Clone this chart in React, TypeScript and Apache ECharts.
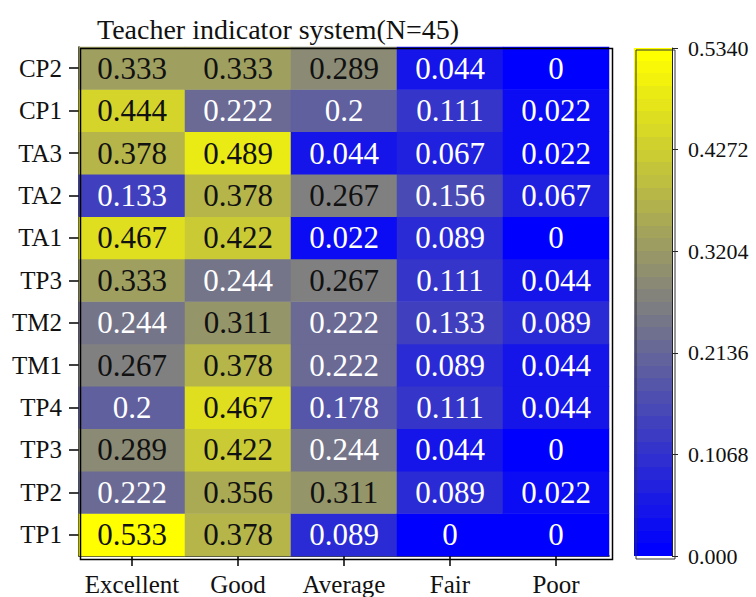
import React, { useEffect, useRef } from "react";
import * as echarts from "echarts";

// Rating categories (columns) and indicators (rows, bottom to top)
const ratings = ["Excellent", "Good", "Average", "Fair", "Poor"];
const indicators = ["TP1", "TP2", "TP3", "TP4", "TM1", "TM2", "TP3", "TA1", "TA2", "TA3", "CP1", "CP2"];

// Share of responses per indicator, one array per rating column (bottom row first)
const excellent = [0.533, 0.222, 0.289, 0.2, 0.267, 0.244, 0.333, 0.467, 0.133, 0.378, 0.444, 0.333];
const good = [0.378, 0.356, 0.422, 0.467, 0.378, 0.311, 0.244, 0.422, 0.378, 0.489, 0.222, 0.333];
const average = [0.089, 0.311, 0.244, 0.178, 0.222, 0.222, 0.267, 0.022, 0.267, 0.044, 0.2, 0.289];
const fair = [0, 0.089, 0.044, 0.111, 0.089, 0.133, 0.111, 0.089, 0.156, 0.067, 0.111, 0.044];
const poor = [0, 0.022, 0, 0.044, 0.044, 0.089, 0.044, 0, 0.067, 0.022, 0.022, 0];

const columns = [excellent, good, average, fair, poor];

// Colour scale range and its tick step
const scaleMin = 0;
const scaleMax = 0.534;
const scaleStep = 0.1068;
const colorbarLevels = 40;

const FONT = "'Liberation Serif', 'Times New Roman', serif";

// Layout of the heatmap and colour bar
const plot = { left: 79, top: 47, width: 530, height: 509 };
const bar = { left: 634, top: 48, width: 38, height: 508 };

function lerpColor(t: number): string {
  const r = Math.round(255 * t);
  const b = Math.round(255 * (1 - t));
  return `rgb(${r},${r},${b})`;
}

export default function App() {
  const ref = useRef<HTMLDivElement>(null);

  useEffect(() => {
    if (!ref.current) return;
    const chart = echarts.init(ref.current, null, { renderer: "svg" });

    const cells: any[] = [];
    columns.forEach((col, x) => {
      col.forEach((v, y) => {
        cells.push({
          value: [x, y, v],
          label: { color: v >= 0.25 ? "#111" : "#fff" },
        });
      });
    });

    // Stepped gradient for the colour bar
    const stops: { offset: number; color: string }[] = [];
    for (let i = 0; i < colorbarLevels; i++) {
      const c = lerpColor(i / (colorbarLevels - 1));
      stops.push({ offset: i / colorbarLevels, color: c });
      stops.push({ offset: (i + 1) / colorbarLevels, color: c });
    }

    chart.setOption({
      animation: false,
      title: {
        text: "Teacher indicator system(N=45)",
        left: 92,
        top: 10,
        textStyle: { fontFamily: FONT, fontSize: 28, fontWeight: "normal", color: "#111" },
      },
      grid: [
        { ...plot },
        { ...bar },
      ],
      xAxis: [
        {
          type: "category",
          gridIndex: 0,
          data: ratings,
          axisLine: { show: true, lineStyle: { color: "#000", width: 1.5 } },
          axisTick: { show: true, alignWithLabel: true, length: 10, lineStyle: { color: "#000", width: 1.5 } },
          axisLabel: { show: true, interval: 0, fontFamily: FONT, fontSize: 25, color: "#111", margin: 16 },
        },
        {
          type: "category",
          gridIndex: 1,
          data: [""],
          axisLine: { show: false },
          axisTick: { show: false },
          axisLabel: { show: false },
        },
      ],
      yAxis: [
        {
          type: "category",
          gridIndex: 0,
          data: indicators,
          axisLine: { show: true, lineStyle: { color: "#000", width: 1.5 } },
          axisTick: { show: true, alignWithLabel: true, length: 10, lineStyle: { color: "#000", width: 1.5 } },
          axisLabel: { show: true, interval: 0, fontFamily: FONT, fontSize: 25, color: "#111", margin: 17 },
        },
        {
          type: "value",
          gridIndex: 1,
          position: "right",
          min: scaleMin,
          max: scaleMax,
          interval: scaleStep,
          axisLine: { show: true, lineStyle: { color: "#222", width: 1 } },
          axisTick: { show: true, length: 6, lineStyle: { color: "#222", width: 1 } },
          axisLabel: {
            show: true,
            fontFamily: FONT,
            fontSize: 22,
            color: "#111",
            margin: 16,
            formatter: (v: number) => (v === 0 ? "0.000" : v.toFixed(4)),
          },
          splitLine: { show: false },
        },
      ],
      visualMap: {
        show: false,
        seriesIndex: 0,
        dimension: 2,
        min: scaleMin,
        max: scaleMax,
        inRange: { color: ["#0000ff", "#ffff00"] },
      },
      series: [
        {
          type: "heatmap",
          xAxisIndex: 0,
          yAxisIndex: 0,
          data: cells,
          label: {
            show: true,
            fontFamily: FONT,
            fontSize: 31,
            formatter: (p: any) => String(p.value[2]),
          },
        },
        {
          type: "bar",
          xAxisIndex: 1,
          yAxisIndex: 1,
          data: [scaleMax],
          barWidth: "100%",
          itemStyle: {
            color: new echarts.graphic.LinearGradient(0, 1, 0, 0, stops),
          },
        },
      ],
      graphic: [
        {
          type: "rect",
          left: plot.left - 1,
          top: plot.top - 1,
          z: 100,
          silent: true,
          shape: { width: plot.width + 2, height: plot.height + 2 },
          style: { fill: "none", stroke: "#000", lineWidth: 1.5 },
        },
        {
          type: "rect",
          left: bar.left - 0.5,
          top: bar.top - 0.5,
          z: 100,
          silent: true,
          shape: { width: bar.width + 1, height: bar.height + 1 },
          style: { fill: "none", stroke: "#333", lineWidth: 1 },
        },
      ],
    });

    return () => chart.dispose();
  }, []);

  return (
    <div
      ref={ref}
      style={{ position: "fixed", left: 0, top: 0, width: 756, height: 597, background: "#fff" }}
    />
  );
}
